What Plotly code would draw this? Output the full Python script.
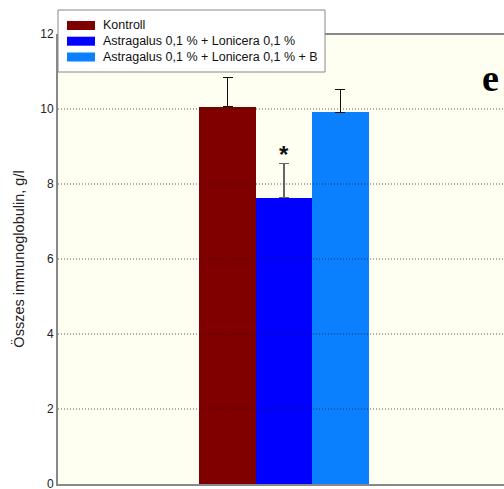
import plotly.graph_objects as go

groups = ["Kontroll", "Astragalus 0,1 % + Lonicera 0,1 %", "Astragalus 0,1 % + Lonicera 0,1 % + B"]
values = [10.06, 7.64, 9.91]
errors = [0.77, 0.90, 0.60]
colors = ["#800000", "#0000FF", "#0A80FF"]
err_colors = ["#111111", "#666666", "#111111"]
y_ticks = [0, 2, 4, 6, 8, 10, 12]

W, H = 504, 489
ML, MR, MT, MB = 58, 0, 34, 5
PW, PH = W - ML - MR, H - MT - MB


def px(x):
    return (x - ML) / PW


def py(y):
    return (H - MB - y) / PH


fig = go.Figure()
for i, (g, v, e, c, ec) in enumerate(zip(groups, values, errors, colors, err_colors)):
    fig.add_trace(go.Bar(
        x=[i], y=[v], name=g, width=1.0, showlegend=False,
        marker=dict(color=c, line=dict(width=0)),
        error_y=dict(type="data", array=[e], arrayminus=[0], symmetric=False,
                     color=ec, thickness=1.2, width=5),
    ))

# dotted gridlines drawn above the bars (as in the original)
for t in y_ticks[1:-1]:
    fig.add_shape(type="line", xref="paper", yref="y", x0=0, x1=1, y0=t, y1=t,
                  layer="above", line=dict(color="rgba(20,20,20,0.7)", width=1, dash="1px,2px"))

# significance marker above blue bar
fig.add_annotation(x=1, y=values[1] + errors[1], text="<b>*</b>", showarrow=False,
                   yshift=9, font=dict(family="Liberation Sans", size=24, color="#111"))
# panel letter
fig.add_annotation(x=px(501), y=py(55), xref="paper", yref="paper", text="<b>e</b>",
                   showarrow=False, font=dict(family="Liberation Serif", size=38, color="#000"))
# top border line
fig.add_shape(type="line", xref="paper", yref="paper", x0=0, x1=1, y0=1, y1=1,
              line=dict(color="#888888", width=2))

# legend box (drawn like the original: wide swatches, compact rows)
fig.add_shape(type="rect", xref="paper", yref="paper", x0=px(58), x1=px(325), y0=py(72), y1=py(10),
              fillcolor="white", line=dict(color="#888888", width=1), layer="above")
row_y = [25.5, 41.2, 57.0]
for g, c, ry in zip(groups, colors, row_y):
    fig.add_shape(type="rect", xref="paper", yref="paper", x0=px(67), x1=px(95),
                  y0=py(ry + 4.5), y1=py(ry - 4.5), fillcolor=c, line=dict(width=0), layer="above")
    fig.add_annotation(x=px(101), y=py(ry), xref="paper", yref="paper", text=g,
                       xanchor="left", yanchor="middle", showarrow=False,
                       font=dict(family="Liberation Sans", size=12.5, color="#111"))

fig.update_layout(
    width=W, height=H,
    margin=dict(l=ML, r=MR, t=MT, b=MB),
    paper_bgcolor="white", plot_bgcolor="#FEFEF1",
    barmode="overlay", bargap=0,
    font=dict(family="Liberation Sans", size=12, color="#222"),
    showlegend=False,
    xaxis=dict(range=[-3.0, 4.894], showgrid=False, zeroline=False, showticklabels=False,
               showline=True, linecolor="#888888", linewidth=2, ticks=""),
    yaxis=dict(range=[0, 12], tickvals=y_ticks, ticktext=[str(t) for t in y_ticks],
               showgrid=False, zeroline=False, showline=True, linecolor="#888888", linewidth=2,
               ticks="", ticklen=0, automargin=False, ticklabeloverflow="allow",
               tickfont=dict(family="Liberation Sans", size=12, color="#222"),
               title=dict(text="Összes immunoglobulin, g/l", standoff=12,
                          font=dict(family="Liberation Sans", size=14.5, color="#222"))),
)

fig.write_html("out.html")
